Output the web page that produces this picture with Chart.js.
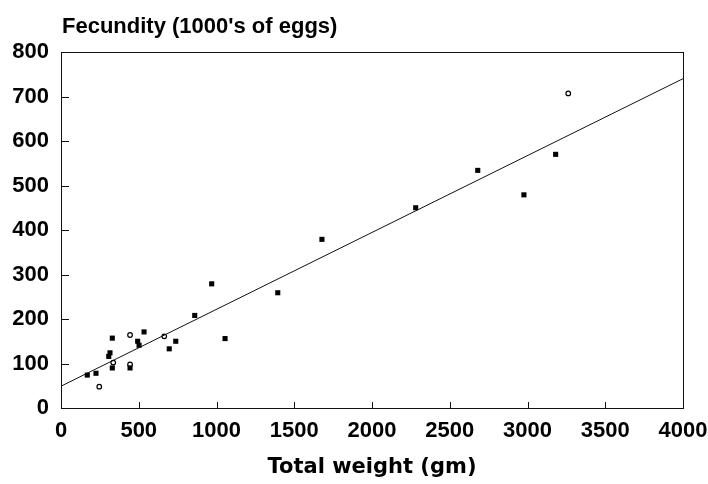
<!DOCTYPE html>
<html>
<head>
<meta charset="utf-8">
<script src="https://cdn.jsdelivr.net/npm/chart.js@4.4.1/dist/chart.umd.min.js"></script>
<style>
  body { margin: 0; background: #fff; }
  canvas { display: block; }
</style>
</head>
<body>
<canvas id="fecundityChart" width="708" height="484"></canvas>
<script>
// filled squares (total weight in gm, fecundity in 1000's of eggs)
const filledWeight = [169, 225, 330, 315, 307, 330, 444, 493, 502, 534, 696, 738, 860, 969, 1055, 1394, 1678, 2281, 2680, 2977, 3181];
const filledEggs = [74, 78, 157, 124, 116, 90, 90, 150, 141, 171, 133, 150, 208, 279, 156, 259, 379, 450, 534, 479, 570];

// open symbols
const openWeight = [246, 336, 444, 444, 664, 3262];
const openEggs = [48, 102, 164, 98, 161, 707];

// fitted regression line
const fitWeight = [0, 4000];
const fitEggs = [49, 740];

const xTicks = [0, 500, 1000, 1500, 2000, 2500, 3000, 3500, 4000];
const yTicks = [0, 100, 200, 300, 400, 500, 600, 700, 800];

const toPoints = (xs, ys) => xs.map((x, i) => ({ x: x, y: ys[i] }));

Chart.defaults.font.family = "'Liberation Sans', Arial, sans-serif";
Chart.defaults.color = "#000";

// frame, inward tick marks and the title in the top left corner
const framePlugin = {
  id: "frame",
  afterDraw(chart) {
    const { ctx, chartArea: a, scales } = chart;
    ctx.save();
    ctx.strokeStyle = "#111";
    ctx.lineWidth = 1;
    ctx.strokeRect(a.left + 0.5, a.top + 0.5, a.right - a.left, a.bottom - a.top);
    ctx.beginPath();
    xTicks.forEach(v => {
      const px = Math.round(scales.x.getPixelForValue(v)) + 0.5;
      ctx.moveTo(px, a.bottom);
      ctx.lineTo(px, a.bottom - 6);
    });
    yTicks.forEach(v => {
      const py = Math.round(scales.y.getPixelForValue(v)) + 0.5;
      ctx.moveTo(a.left, py);
      ctx.lineTo(a.left + 8, py);
    });
    ctx.stroke();
    ctx.fillStyle = "#000";
    ctx.font = "bold 22px 'Liberation Sans', Arial, sans-serif";
    ctx.textBaseline = "alphabetic";
    ctx.fillText("Fecundity (1000's of eggs)", 62, 33);
    ctx.restore();
  }
};

new Chart(document.getElementById("fecundityChart"), {
  type: "scatter",
  data: {
    datasets: [
      {
        label: "fit",
        data: toPoints(fitWeight, fitEggs),
        showLine: true,
        borderColor: "#111",
        borderWidth: 1,
        pointRadius: 0,
        fill: false,
      },
      {
        label: "filled",
        data: toPoints(filledWeight, filledEggs),
        pointStyle: "rect",
        pointRadius: 3.6,
        backgroundColor: "#000",
        borderColor: "#000",
        borderWidth: 0,
      },
      {
        label: "open",
        data: toPoints(openWeight, openEggs),
        pointStyle: "circle",
        pointRadius: 2.3,
        backgroundColor: "#fff",
        borderColor: "#000",
        borderWidth: 1.2,
      },
    ],
  },
  options: {
    responsive: false,
    animation: false,
    layout: { padding: { top: 52, right: 25, left: 0, bottom: 0 } },
    plugins: {
      legend: { display: false },
      tooltip: { enabled: false },
    },
    scales: {
      x: {
        type: "linear",
        min: 0,
        max: 4000,
        afterBuildTicks: scale => { scale.ticks = xTicks.map(v => ({ value: v })); },
        afterFit: scale => {
          scale.height = 76;
          scale.paddingLeft = 0;
          scale.paddingRight = 0;
        },
        grid: { display: false, drawTicks: false },
        border: { display: false },
        ticks: {
          padding: 10,
          font: { size: 22, weight: "bold" },
          maxRotation: 0,
          callback: v => String(v),
        },
        title: {
          display: true,
          text: "Total weight (gm)",
          font: { family: "'DejaVu Sans', sans-serif", size: 21, weight: "bold" },
          padding: { top: 0, bottom: 4 },
        },
      },
      y: {
        type: "linear",
        min: 0,
        max: 800,
        afterBuildTicks: scale => { scale.ticks = yTicks.map(v => ({ value: v })); },
        afterFit: scale => { scale.width = 61; },
        grid: { display: false, drawTicks: false },
        border: { display: false },
        ticks: {
          padding: 12,
          font: { size: 22, weight: "bold" },
          callback: v => String(v),
        },
      },
    },
  },
  plugins: [framePlugin],
});
</script>
</body>
</html>
